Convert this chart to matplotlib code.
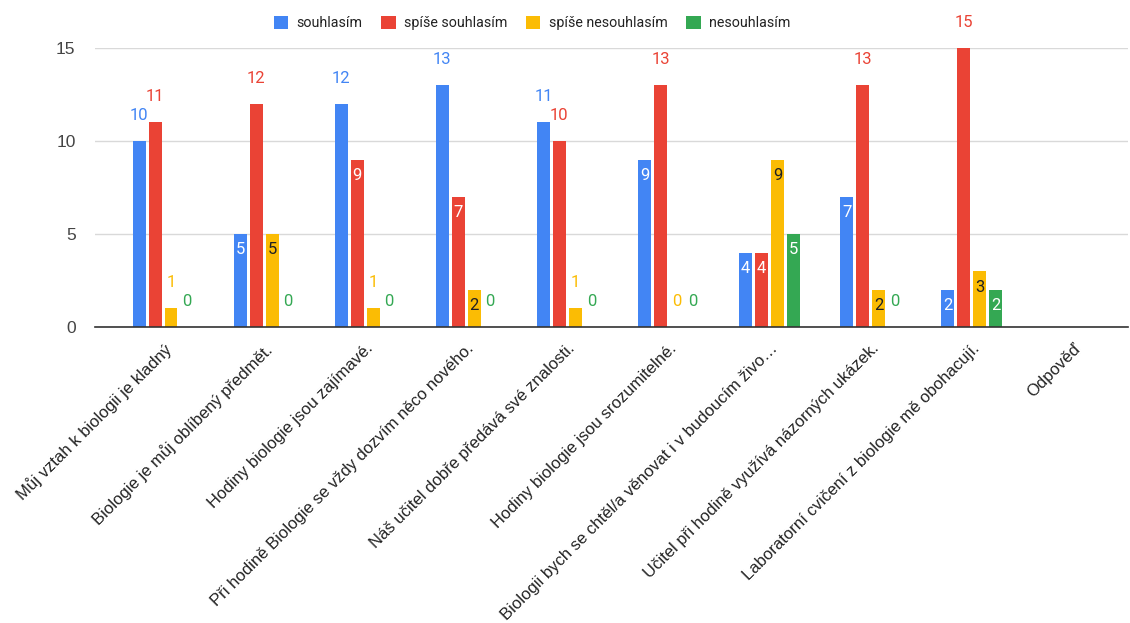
import matplotlib.pyplot as plt
import numpy as np

categories = [
    "Můj vztah k biologii je kladný",
    "Biologie je můj oblíbený předmět.",
    "Hodiny biologie jsou zajímavé.",
    "Při hodině Biologie se vždy dozvím něco nového.",
    "Náš učitel dobře předává své znalosti.",
    "Hodiny biologie jsou srozumitelné.",
    "Biologii bych se chtěl/a věnovat i v budoucím živo…",
    "Učitel při hodině využívá názorných ukázek.",
    "Laboratorní cvičení z biologie mě obohacují.",
    "Odpověď",
]
series_names = ["souhlasím", "spíše souhlasím", "spíše nesouhlasím", "nesouhlasím"]
souhlasim = [10, 5, 12, 13, 11, 9, 4, 7, 2, np.nan]
spise_souhlasim = [11, 12, 9, 7, 10, 13, 4, 13, 15, np.nan]
spise_nesouhlasim = [1, 5, 1, 2, 1, 0, 9, 2, 3, np.nan]
nesouhlasim = [0, 0, 0, 0, 0, 0, 5, 0, 2, np.nan]
yticks = [0, 5, 10, 15]

colors = ["#4285F4", "#EA4335", "#FBBC04", "#34A853"]
inside_text = ["white", "white", "#202124", "white"]

fig = plt.figure(figsize=(11.3, 6.23), dpi=100)
ax = fig.add_axes([95 / 1130, 1 - 327 / 623, 1033 / 1130, 279 / 623])

x = np.arange(len(categories))
width = 0.128
step = 0.158
all_series = [souhlasim, spise_souhlasim, spise_nesouhlasim, nesouhlasim]

for i, vals in enumerate(all_series):
    pos = x + (i - 1.5) * step
    ax.bar(pos, vals, width, color=colors[i], label=series_names[i], zorder=3)
    for p, v in zip(pos, vals):
        if np.isnan(v):
            continue
        txt = str(int(v))
        # inside label when it fits (1 digit, bar tall enough)
        if 2 <= v < 10:
            ax.annotate(txt, (p, v), xytext=(0, -11.5), textcoords="offset points",
                        ha="center", va="center", color=inside_text[i],
                        fontsize=12, family="Roboto", zorder=4)
        else:
            ax.annotate(txt, (p, v), xytext=(0, 18.5), textcoords="offset points",
                        ha="center", va="center", color=colors[i],
                        fontsize=12, family="Roboto", zorder=4, annotation_clip=False)

ax.set_xlim(-0.673, 9.545)
ax.set_ylim(0, 15)
ax.set_yticks(yticks)
ax.set_yticklabels([str(t) for t in yticks], fontsize=12.5, color="#444444",
                   family=["Liberation Sans", "DejaVu Sans"])
ax.set_xticks(x)
ax.set_xticklabels(categories, rotation=45, ha="right", va="top", rotation_mode="anchor",
                   fontsize=12, color="#222222", family=["Liberation Sans", "DejaVu Sans"])
ax.tick_params(axis="both", length=0)
ax.tick_params(axis="x", pad=10)
ax.tick_params(axis="y", pad=14)
ax.yaxis.grid(True, color="#d9d9d9", linewidth=1, zorder=0)
for s in ["top", "right", "left"]:
    ax.spines[s].set_visible(False)
ax.spines["bottom"].set_color("#333333")
ax.spines["bottom"].set_linewidth(1.2)
ax.spines["bottom"].set_zorder(5)

leg = fig.legend(loc="center", bbox_to_anchor=(0.471, 0.963), ncol=4, frameon=False,
                 prop={"family": "Roboto", "size": 10.3}, handlelength=1.0, handleheight=1.0,
                 columnspacing=1.3, handletextpad=0.6)
for t in leg.get_texts():
    t.set_color("#222222")

fig.savefig("out.png", dpi=100)
